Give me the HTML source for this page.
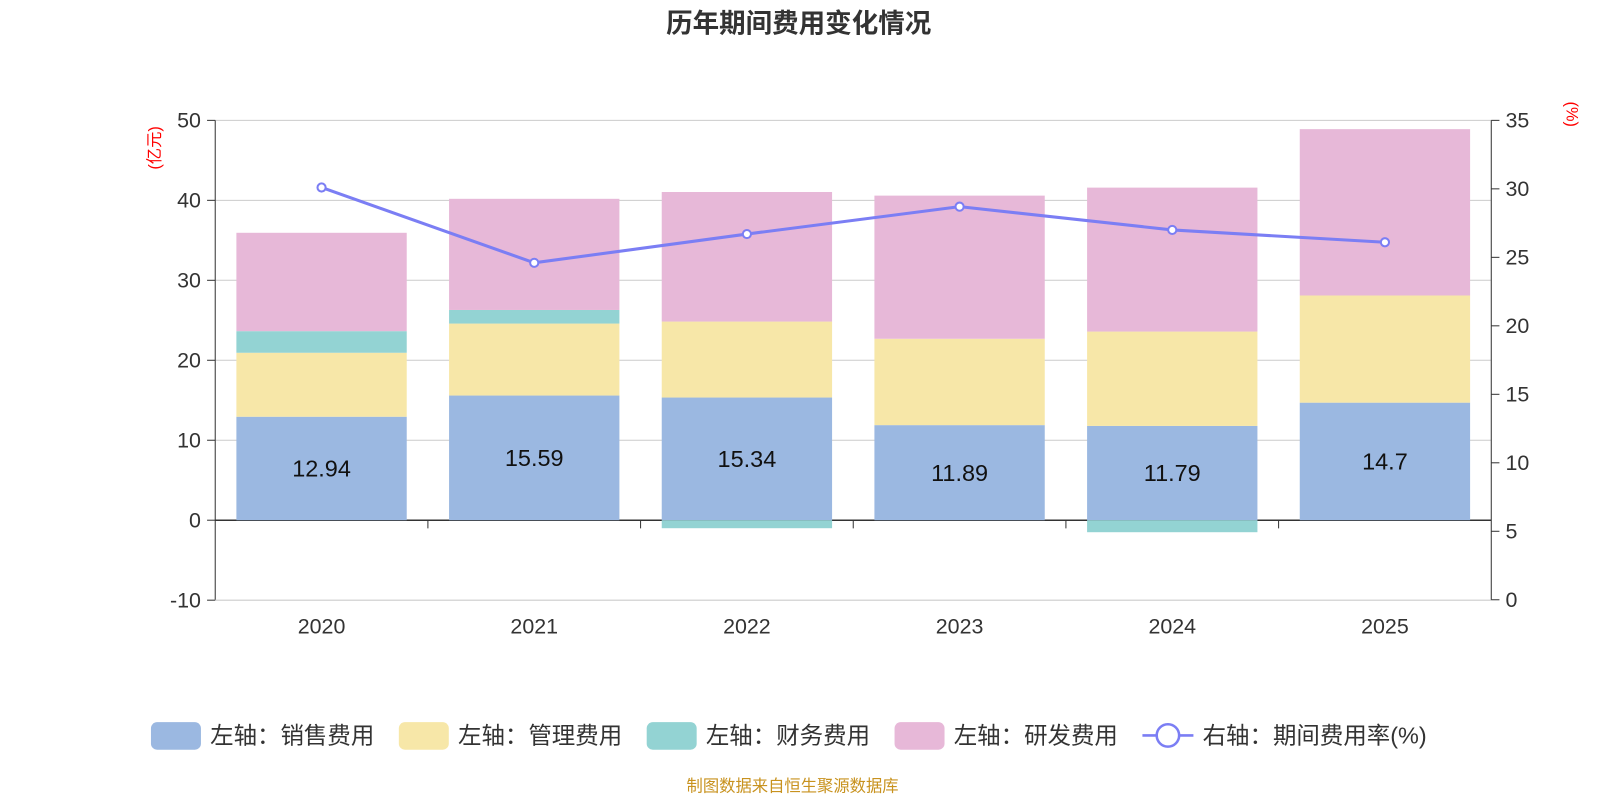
<!DOCTYPE html>
<html><head><meta charset="utf-8"><style>
body{margin:0;background:#fff;font-family:"Liberation Sans","Noto Sans CJK SC",sans-serif}
svg{display:block}
</style></head><body>
<svg id="c" width="1600" height="800" viewBox="0 0 1568.6 784.3" xmlns="http://www.w3.org/2000/svg"></svg>
<script>
const years=["2020","2021","2022","2023","2024","2025"];
const sales=[12.94,15.59,15.34,11.89,11.79,14.7];
const mgmt=[8.0,9.0,9.5,10.8,11.8,13.4];
const fin=[2.7,1.7,-1.0,0,-1.5,0];
const rnd=[12.3,13.9,16.2,17.9,18.0,20.8];
const rate=[30.1,24.6,26.7,28.7,27.0,26.1];
const leftTicks=[-10,0,10,20,30,40,50];
const rightTicks=[0,5,10,15,20,25,30,35];
const NS="http://www.w3.org/2000/svg";
const svg=document.getElementById('c');
const X0=211,X1=1462,T=118,B=588;
const yL=v=>510-v*7.84;
const yR=v=>B-(v/35)*(B-T);
const bw=(X1-X0)/years.length;
const xc=i=>X0+bw*(i+0.5);
function el(tag,attrs,txt){const e=document.createElementNS(NS,tag);for(const k in attrs)e.setAttribute(k,attrs[k]);if(txt!==undefined)e.textContent=txt;svg.appendChild(e);return e;}
let t=el('text',{x:783,y:32,'text-anchor':'middle','font-size':26,'font-weight':'bold',fill:'#333'},'历年期间费用变化情况');

leftTicks.forEach(v=>{
 const g=el('line',{x1:X0,x2:X1,y1:yL(v),y2:yL(v),stroke:v===0?'#333':'#ccc','stroke-width':v===0?1.5:1});
 
 el('line',{x1:X0-8,x2:X0,y1:yL(v),y2:yL(v),stroke:'#333'});
 const l=el('text',{x:X0-14,y:yL(v)+7,'text-anchor':'end','font-size':21,fill:'#333'},v);
 
});
rightTicks.forEach(v=>{
 el('line',{x1:X1,x2:X1+8,y1:yR(v),y2:yR(v),stroke:'#333'});
 const l=el('text',{x:X1+14,y:yR(v)+7,'font-size':21,fill:'#333'},v);
 
});
el('line',{x1:X0,x2:X0,y1:T,y2:B,stroke:'#333'});
el('line',{x1:X1,x2:X1,y1:T,y2:B,stroke:'#333'});
let a=el('text',{transform:'translate(157,145) rotate(-90)','text-anchor':'middle','font-size':16,fill:'red'},'(亿元)');

a=el('text',{transform:'translate(1536,112) rotate(90)','text-anchor':'middle','font-size':16,fill:'red'},'(%)');

const series=[[sales,'#9bb8e1'],[mgmt,'#f7e7a8'],[fin,'#93d3d3'],[rnd,'#e7b8d8']];
years.forEach((y,i)=>{
 const x=xc(i)-83.5;
 let pos=0,neg=0;
 series.forEach(([arr,c])=>{
  const v=arr[i];let y0,y1;
  if(v>=0){y0=pos;y1=pos+v;pos=y1;}else{y0=neg;y1=neg+v;neg=y1;}
  const r=el('rect',{x:x,width:167,y:Math.min(yL(y0),yL(y1)),height:Math.abs(yL(y1)-yL(y0)),fill:c});
  
 });
 const lb=el('text',{x:xc(i),y:yL(sales[i]/2)+8,'text-anchor':'middle','font-size':23,fill:'#111'},sales[i]);
 
 const xl=el('text',{x:xc(i),y:621,'text-anchor':'middle','font-size':21,fill:'#333'},y);
 
 if(i>0)el('line',{x1:X0+bw*i,x2:X0+bw*i,y1:510,y2:518,stroke:'#333'});
});
const pl=el('polyline',{points:rate.map((v,i)=>xc(i)+','+yR(v)).join(' '),fill:'none',stroke:'#7b7ef4','stroke-width':3});

rate.forEach((v,i)=>{const c=el('circle',{cx:xc(i),cy:yR(v),r:4,fill:'#fff',stroke:'#7b7ef4','stroke-width':2});
 });
const leg=[['左轴：销售费用','#9bb8e1',148],['左轴：管理费用','#f7e7a8',391],['左轴：财务费用','#93d3d3',634],['左轴：研发费用','#e7b8d8',877]];
leg.forEach(([n,c,x])=>{
 const r=el('rect',{x:x,y:708,width:49,height:27,rx:6,fill:c});
 
 el('text',{x:x+58,y:729,'font-size':23,fill:'#333'},n);
});
el('line',{x1:1120,x2:1170,y1:721,y2:721,stroke:'#7b7ef4','stroke-width':2.5});
const lc=el('circle',{cx:1145,cy:721,r:11,fill:'#fff',stroke:'#7b7ef4','stroke-width':2.5});

el('text',{x:1179,y:729,'font-size':23,fill:'#333'},'右轴：期间费用率(%)');
const s=el('text',{x:777,y:776,'text-anchor':'middle','font-size':16,fill:'#c8921e'},'制图数据来自恒生聚源数据库');

</script>
</body></html>
